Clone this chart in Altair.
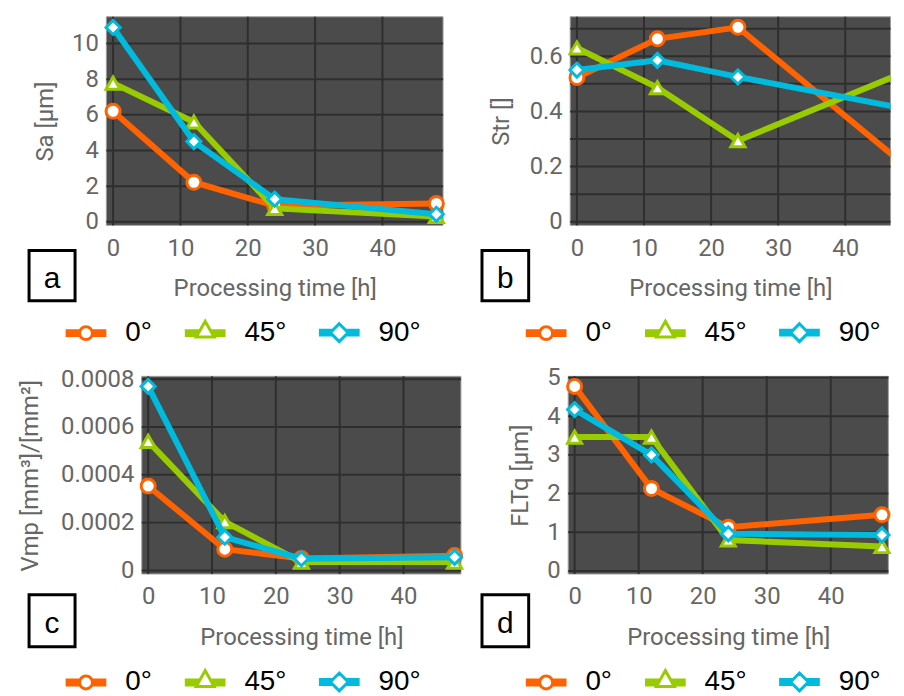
import altair as alt
import pandas as pd

# ---------------- data ----------------
times = [0, 12, 24, 48]
angles = ["0°", "45°", "90°"]

sa_0 = [6.2, 2.22, 0.9, 1.03]
sa_45 = [7.78, 5.6, 0.75, 0.3]
sa_90 = [10.9, 4.5, 1.27, 0.42]

str_0 = [0.523, 0.663, 0.705, 0.222]
str_45 = [0.63, 0.486, 0.294, 0.534]
str_90 = [0.55, 0.585, 0.525, 0.414]

vmp_0 = [0.000353, 0.0000888, 0.00005, 0.000062]
vmp_45 = [0.00054, 0.000204, 0.000035, 0.000035]
vmp_90 = [0.00077, 0.000139, 0.000049, 0.000055]

fltq_0 = [4.77, 2.13, 1.13, 1.45]
fltq_45 = [3.46, 3.46, 0.8, 0.63]
fltq_90 = [4.17, 3.0, 0.96, 0.93]

time_ticks = [0, 10, 20, 30, 40]
sa_ticks = [0, 2, 4, 6, 8, 10]
str_ticks = [0, 0.1, 0.2, 0.3, 0.4, 0.5, 0.6, 0.7]
vmp_ticks = [0, 0.0002, 0.0004, 0.0006, 0.0008]
fltq_ticks = [0, 1, 2, 3, 4, 5]

# ---------------- style ----------------
COLORS = ["#FF6200", "#99CC00", "#00BBDD"]
SHAPES = ["circle", "triangle-up", "diamond"]
BG = "#4b4b4b"
BORDER = "#a0a0a0"
GRID = "#2e2e2e"
TXT = "#666666"

# legend symbols: thick bar (5 parallel strokes) + white-filled marker.
U = 20.5  # px per path unit (sqrt(symbolSize)/2)
BAR_Y = [-2.5, -1.25, 0, 1.25, 2.5]


def bar(ends):
    parts = []
    for y, e in zip(BAR_Y, ends):
        yy, ee = y / U, e / U
        parts.append(f"M-1,{yy:.3f}H{-ee:.3f}M{ee:.3f},{yy:.3f}H1")
    return "".join(parts)


r = 6.5 / U
P_CIRCLE = bar([6.2] * 5) + f"M{-r:.3f},0A{r:.3f},{r:.3f},0,1,1,{r:.3f},0A{r:.3f},{r:.3f},0,1,1,{-r:.3f},0Z"
P_TRI = bar([9 * (y + 12) / 16 for y in BAR_Y]) + \
    f"M0,{-12 / U:.3f}L{9 / U:.3f},{4 / U:.3f}L{-9 / U:.3f},{4 / U:.3f}Z"
h = 9 / U
P_DIA = bar([9 - abs(y) for y in BAR_Y]) + f"M0,{-h:.3f}L{h:.3f},0L0,{h:.3f}L{-h:.3f},0Z"
SHAPE_SIGNAL = (f"datum.value === '{angles[0]}' ? '{P_CIRCLE}' : "
                f"datum.value === '{angles[1]}' ? '{P_TRI}' : '{P_DIA}'")


def series_df(s0, s45, s90):
    rows = []
    for ang, vals in zip(angles, [s0, s45, s90]):
        for t, v in zip(times, vals):
            rows.append({"time": t, "angle": ang, "value": v})
    return pd.DataFrame(rows)


def panel(df, ytitle, ydomain, yticks, plot_w, height, xmax, xo, title_x, letter,
          box, legend_xy, label_expr=None, clip=False):
    xdom = [-1, xmax]
    xenc = alt.X(
        "time:Q",
        scale=alt.Scale(domain=xdom, range=[xo, xo + plot_w], nice=False, zero=False),
        axis=alt.Axis(values=time_ticks, tickCount=len(time_ticks),
                      title="Processing time [h]", titleY=63.5,
                      titleBaseline="middle", labelPadding=11, labelFlush=False,
                      labelOverlap=False),
    )
    ykw = dict(values=yticks, tickCount=len(yticks), title=ytitle, titleX=title_x,
               titleY=height / 2, titleAngle=270, titleBaseline="middle",
               titleAlign="center", labelPadding=8, labelFlush=False,
               labelOverlap=False, format="~r")
    if xo:
        ykw["offset"] = -xo
    if label_expr:
        ykw["labelExpr"] = label_expr
    yenc = alt.Y("value:Q", scale=alt.Scale(domain=ydomain, nice=False, zero=False),
                 axis=alt.Axis(**ykw))
    legend = alt.Legend(
        title=None, orient="none", legendX=legend_xy[0], legendY=legend_xy[1],
        direction="horizontal", symbolSize=(2 * U) ** 2, symbolStrokeWidth=3,
        symbolFillColor="white", symbolOpacity=1, symbolType={"expr": SHAPE_SIGNAL},
        labelFont="Liberation Sans", labelFontSize=28,
        labelColor="black", labelOffset=17.5, columnPadding=26, padding=0,
        symbolOffset=0,
    )
    color = alt.Color("angle:N", scale=alt.Scale(domain=angles, range=COLORS), legend=legend)
    stroke = alt.Stroke("angle:N", scale=alt.Scale(domain=angles, range=COLORS), legend=None)

    layers = []
    # plot background + frame
    layers.append(alt.Chart(pd.DataFrame({"panel": [letter]}))
                  .mark_rect(fill=BG, stroke=BORDER, strokeWidth=1)
                  .encode(x=alt.datum(xdom[0]), x2=alt.datum(xdom[1]),
                          y=alt.datum(ydomain[0]), y2=alt.datum(ydomain[1])))
    # grid lines (beneath the data)
    layers.append(alt.Chart(pd.DataFrame({"time": time_ticks, "panel": letter}))
                  .mark_rule(color=GRID, strokeWidth=2)
                  .encode(x=xenc, y=alt.datum(ydomain[0]), y2=alt.datum(ydomain[1])))
    layers.append(alt.Chart(pd.DataFrame({"value": yticks, "panel": letter}))
                  .mark_rule(color=GRID, strokeWidth=2)
                  .encode(y=yenc, x=alt.datum(xdom[0]), x2=alt.datum(xdom[1])))
    for ang, shp in zip(angles, SHAPES):
        base = alt.Chart(df).transform_filter(alt.FieldEqualPredicate(field="angle", equal=ang))
        layers.append(base.mark_line(strokeWidth=6, clip=clip).encode(x=xenc, y=yenc, color=color))
        layers.append(base.mark_point(shape=shp, size=200, filled=True, fill="white",
                                      strokeWidth=3, opacity=1, clip=clip)
                      .encode(x=xenc, y=yenc, stroke=stroke))

    box_df = pd.DataFrame({"letter": [letter]})
    x0, x1, y0, y1 = box
    layers.append(alt.Chart(box_df).mark_rect(fill="white", stroke="black", strokeWidth=3)
                  .encode(x=alt.value(x0), x2=alt.value(x1), y=alt.value(y0), y2=alt.value(y1)))
    layers.append(alt.Chart(box_df).mark_text(font="Liberation Sans", fontSize=30, color="black",
                                              align="center", baseline="alphabetic")
                  .encode(x=alt.value((x0 + x1) / 2), y=alt.value((y0 + y1) / 2 + 12.5),
                          text="letter:N"))

    return alt.layer(*layers).properties(width=xo + plot_w, height=height)


pa = panel(series_df(sa_0, sa_45, sa_90), "Sa [µm]", [-0.2, 11.5], sa_ticks,
           339, 210, 49, 0, -61, "a", (-77.8, -31.5, 235.2, 285.8), (-42.5, 296))
pb = panel(series_df(str_0, str_45, str_90), "Str []", [-0.013, 0.743], str_ticks,
           322.5, 210, 46.75, 2, -69, "b", (-86.8, -39.8, 235.2, 285.8), (-44.2, 296),
           label_expr="round(datum.value * 10) % 2 === 0 ? datum.label : ''", clip=True)
pc = panel(series_df(vmp_0, vmp_45, vmp_90), "Vmp [mm³]/[mm²]", [-0.000015, 0.000812],
           vmp_ticks, 321.3, 199, 49, 35.7, -111.7, "c", (-77.8, -31.5, 219.8, 272.2),
           (-42.5, 285.7))
pd_ = panel(series_df(fltq_0, fltq_45, fltq_90), "FLTq [µm]", [-0.08, 5.03], fltq_ticks,
            322.3, 199, 49, 0, -48, "d", (-86.8, -39.8, 219.8, 272.2), (-44.2, 285.7))

chart = alt.concat(
    pa, pb, pc, pd_,
    columns=2, spacing={"row": 152, "column": 108}, bounds="flush", align="all",
).resolve_scale(
    color="independent", stroke="independent", x="independent", y="independent"
).resolve_legend(
    color="independent"
).properties(
    padding={"left": 10, "top": 3.5, "right": 0, "bottom": 0}
).configure_view(
    stroke="transparent"
).configure_legend(
    symbolStrokeWidth=3
).configure_axis(
    labelFont="Roboto", labelFontSize=24, labelColor=TXT,
    titleFont="Roboto", titleFontSize=24, titleColor=TXT, titleFontWeight="normal",
    ticks=False, domain=False, grid=False,
)

chart.save("out.html", embed_options={"renderer": "svg", "actions": False})
